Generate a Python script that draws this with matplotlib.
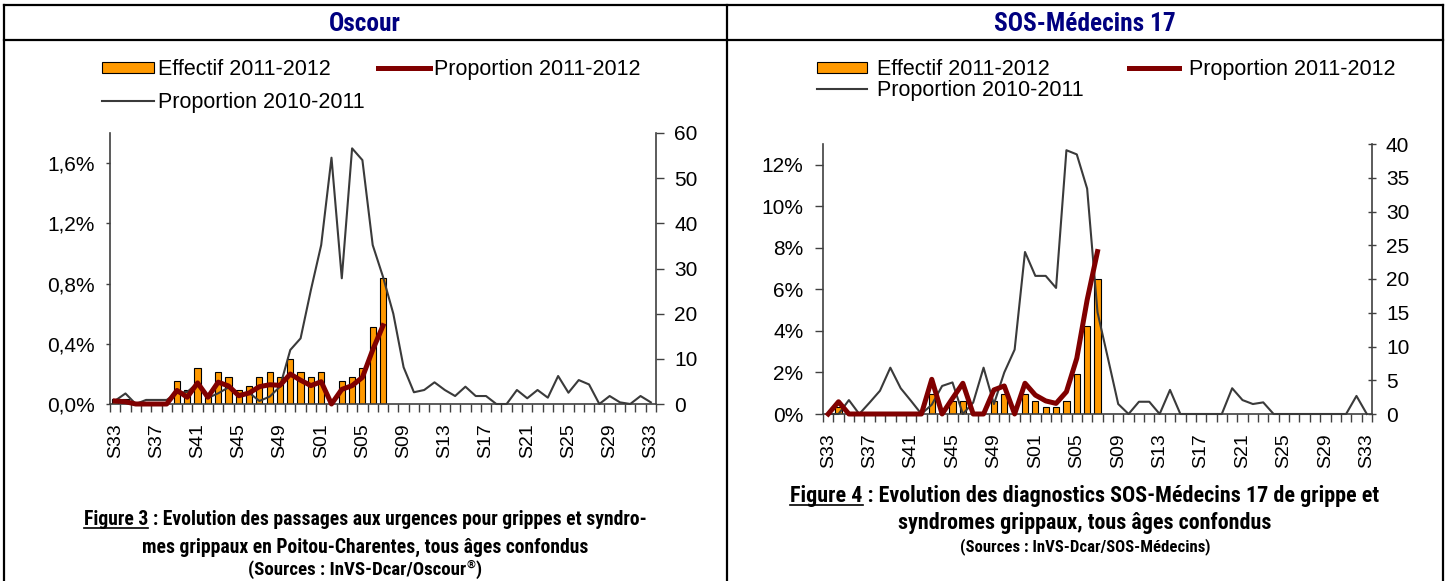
import matplotlib
matplotlib.use("Agg")
import numpy as np
import matplotlib.pyplot as plt
from matplotlib import font_manager as fm
from matplotlib.lines import Line2D
from matplotlib.patches import Patch
from matplotlib.ticker import FixedLocator, FuncFormatter

# =========================
# Data
# =========================
WEEKS = [f"S{w:02d}" for w in list(range(33, 53)) + list(range(1, 34))]

# Oscour (Poitou-Charentes emergency visits)
OSC_COUNT_1112 = [1, 1, 0, 0, 0, 0, 5, 3, 8, 2, 7, 6, 3, 4, 6, 7, 6, 10, 7, 6,
                  7, 0, 5, 6, 8, 17, 28]
OSC_PROP_1112 = [0.02, 0.015, 0, 0, 0, 0, 0.09, 0.045, 0.14, 0.045, 0.145, 0.12,
                 0.055, 0.073, 0.115, 0.128, 0.124, 0.199, 0.158, 0.122, 0.148,
                 0, 0.097, 0.122, 0.177, 0.359, 0.52]
OSC_PROP_1011 = [0.022, 0.07, 0, 0.027, 0.027, 0.027, 0.073, 0.08, 0.14, 0.04,
                 0.071, 0.11, 0.065, 0.075, 0.02, 0.049, 0.115, 0.359, 0.436, 0.757,
                 1.056, 1.636, 0.835, 1.698, 1.62, 1.056, 0.845, 0.6, 0.244, 0.078,
                 0.093, 0.144, 0.093, 0.053, 0.115, 0.053, 0.053, 0, 0, 0.093,
                 0.038, 0.093, 0.042, 0.186, 0.075, 0.159, 0.13, 0, 0.053, 0.011,
                 0, 0.053, 0.011]

# SOS-Medecins 17
SOS_COUNT_1112 = [0, 1, 0, 0, 0, 0, 0, 0, 0, 0, 3, 0, 2, 2, 0, 0, 2, 3, 0, 3,
                  2, 1, 1, 2, 6, 13, 20]
SOS_PROP_1112 = [0, 0.59, 0, 0, 0, 0, 0, 0, 0, 0, 1.67, 0, 0.75, 1.48, 0, 0,
                 1.16, 1.35, 0, 1.48, 0.91, 0.63, 0.51, 1.07, 2.68, 5.49, 7.82]
SOS_PROP_1011 = [0, 0, 0.67, 0, 0.55, 1.12, 2.23, 1.24, 0.63, 0,
                 0.45, 1.35, 1.52, 0, 0.55, 2.23, 0.48, 2.0, 3.1, 7.8,
                 6.65, 6.65, 6.07, 12.7, 12.5, 10.85, 4.9, 2.7, 0.48, 0,
                 0.59, 0.59, 0, 1.16, 0, 0, 0, 0, 0, 1.24,
                 0.67, 0.48, 0.56, 0, 0, 0, 0, 0, 0, 0,
                 0, 0.87, 0]

LEGEND_LABELS = ["Effectif 2011-2012", "Proportion 2010-2011", "Proportion 2011-2012"]

# =========================
# Style
# =========================
ORANGE = "#FF9900"
DARKRED = "#800000"
GREY = "#3a3a3a"
NAVY = "#000080"
SPINE = "#404040"

plt.rcParams["font.family"] = ["Liberation Sans", "DejaVu Sans"]


def narrow_bold_font():
    """Find a condensed bold face among the installed fonts."""
    prefs = ["liberation sans narrow", "roboto condensed", "open sans condensed",
             "noto sans", "dejavu sans"]
    found = []
    for f in fm.fontManager.ttflist:
        key = (f.name + " " + str(f.stretch) + " " + f.fname).lower()
        if not any(k in key for k in ("narrow", "condensed", "cond")):
            continue
        if "extra" in key or "ultra" in key or "semi" in key:
            continue
        w = f.weight
        if isinstance(w, str):
            w = fm.weight_dict.get(w, 400)
        if w < 600 or w > 750 or f.style != "normal":
            continue
        rank = len(prefs)
        for i, p in enumerate(prefs):
            if f.name.lower().startswith(p):
                rank = i
                break
        found.append((rank, f.fname))
    if found:
        found.sort()
        return fm.FontProperties(fname=found[0][1])
    return fm.FontProperties(family=["Roboto", "DejaVu Sans"], weight="bold")


NARROW = narrow_bold_font()

W, H = 1449, 581
fig = plt.figure(figsize=(W / 100, H / 100), dpi=100)
renderer = fig.canvas.get_renderer()


def fx(px):
    return px / W


def fy(py):
    return 1 - py / H


def fig_line(xs, ys, lw=1.6):
    fig.add_artist(Line2D([fx(x) for x in xs], [fy(y) for y in ys],
                          transform=fig.transFigure, color="black", lw=lw))


def narrow(size):
    fp = NARROW.copy()
    fp.set_size(size)
    return fp


def text_width(s, size):
    probe = fig.text(0, 0, s, fontproperties=narrow(size))
    w = probe.get_window_extent(renderer).width
    probe.remove()
    return w


def fit_size(s, width, size=14):
    return size * width / text_width(s, size)


def caption(xc, ybases, fig_no, rest, line2, src_main, src_sup, width1, width_src):
    line1 = f"Figure {fig_no} : {rest}"
    fs = fit_size(line1, width1)
    t1 = fig.text(fx(xc), fy(ybases[0]), line1, ha="center", va="baseline",
                  fontproperties=narrow(fs))
    fig.text(fx(xc), fy(ybases[1]), line2, ha="center", va="baseline",
             fontproperties=narrow(fs))

    # sources line, with an optional raised mark
    fs_src = fit_size(src_main + src_sup + ")", width_src, 11)
    fs_sup = fs_src * 0.6
    w_main = text_width(src_main, fs_src)
    w_sup = text_width(src_sup, fs_sup) if src_sup else 0
    w_close = text_width(")", fs_src)
    xl = xc - (w_main + w_sup + w_close) / 2
    fig.text(fx(xl), fy(ybases[2]), src_main, ha="left", va="baseline",
             fontproperties=narrow(fs_src))
    if src_sup:
        fig.text(fx(xl + w_main), fy(ybases[2] - 7), src_sup, ha="left",
                 va="baseline", fontproperties=narrow(fs_sup))
    fig.text(fx(xl + w_main + w_sup), fy(ybases[2]), ")", ha="left",
             va="baseline", fontproperties=narrow(fs_src))

    # underline "Figure N"
    bb = t1.get_window_extent(renderer)
    uw = text_width(f"Figure {fig_no}", fs)
    yline = fy(ybases[0] + 3)
    fig.add_artist(Line2D([bb.x0 / W, (bb.x0 + uw) / W], [yline, yline],
                          transform=fig.transFigure, color="black", lw=1.2))


def panel(box, counts, prop_new, prop_old, cmax, cstep, pmax, pticks, pfmt,
          legend_xy, leg_opts, ptick_len, ctick_dir):
    x0, y0, x1, y1 = box
    ax = fig.add_axes([fx(x0), fy(y1), (x1 - x0) / W, (y1 - y0) / H])
    ax2 = ax.twinx()

    n = len(WEEKS)
    ax.bar(np.arange(len(counts)), counts, width=0.6, color=ORANGE,
           edgecolor="black", linewidth=0.8, zorder=2)
    ax.set_xlim(-0.5, n - 0.5)
    ax.set_ylim(0, cmax)
    ax.yaxis.tick_right()
    ax.set_yticks(np.arange(0, cmax + 1, cstep))
    ax.tick_params(axis="y", labelsize=15, length=6, width=1, color=SPINE,
                   direction=ctick_dir, pad=7)

    ax.set_xticks(np.arange(0, n, 4))
    ax.set_xticklabels([WEEKS[i] for i in range(0, n, 4)], rotation=90)
    ax.xaxis.set_minor_locator(FixedLocator(np.arange(-0.5, n, 1)))
    ax.tick_params(axis="x", which="major", length=0, labelsize=14, pad=14)
    ax.tick_params(axis="x", which="minor", length=6, width=1, color=SPINE,
                   direction="out")

    for side in ["left", "right", "bottom"]:
        ax.spines[side].set_color(SPINE)
        ax.spines[side].set_linewidth(1.2)
    ax.spines["top"].set_visible(False)
    for sp in ax2.spines.values():
        sp.set_visible(False)

    ax2.plot(np.arange(len(prop_old)), prop_old, color=GREY, lw=1.5,
             clip_on=False, zorder=3)
    ax2.plot(np.arange(len(prop_new)), prop_new, color=DARKRED, lw=3.6,
             solid_joinstyle="round", clip_on=False, zorder=4)
    ax2.set_ylim(0, pmax)
    ax2.yaxis.tick_left()
    ax2.set_yticks(pticks)
    ax2.yaxis.set_major_formatter(FuncFormatter(pfmt))
    ax2.tick_params(axis="y", labelsize=15, length=ptick_len, width=1,
                    color=SPINE, direction="out", pad=8)

    handles = [Patch(facecolor=ORANGE, edgecolor="black", linewidth=0.8),
               Line2D([], [], color=GREY, lw=1.5),
               Line2D([], [], color=DARKRED, lw=3.6)]
    ax2.legend(handles, LEGEND_LABELS, ncol=2, loc="upper left",
               bbox_to_anchor=(fx(legend_xy[0]), fy(legend_xy[1])),
               bbox_transform=fig.transFigure, frameon=False, fontsize=15.5,
               borderpad=0, borderaxespad=0, handleheight=0.45, **leg_opts)
    return ax, ax2


# =========================
# Frame
# =========================
fig_line([4, 1443], [5, 5])
fig_line([4, 1443], [40, 40])
for xv in [4, 727, 1443]:
    fig_line([xv, xv], [5, 581])

title_size = fit_size("Oscour", 72, 16)
fig.text(fx(365), fy(31), "Oscour", ha="center", va="baseline",
         fontproperties=narrow(title_size), color=NAVY)
fig.text(fx(1085), fy(31), "SOS-Médecins 17", ha="center", va="baseline",
         fontproperties=narrow(title_size), color=NAVY)

# =========================
# Panels
# =========================
panel((110, 133, 656, 404), OSC_COUNT_1112, OSC_PROP_1112, OSC_PROP_1011,
      60, 10, 1.8, [0, 0.4, 0.8, 1.2, 1.6],
      lambda v, p: f"{v:.1f}%".replace(".", ","),
      (102, 59), dict(handlelength=2.42, handletextpad=0.2, columnspacing=0.6,
                      labelspacing=0.54),
      3, "out")

panel((823, 144, 1372, 414), SOS_COUNT_1112, SOS_PROP_1112, SOS_PROP_1011,
      40, 5, 13, [0, 2, 4, 6, 8, 10, 12],
      lambda v, p: f"{v:.0f}%",
      (817, 59), dict(handlelength=2.33, handletextpad=0.47, columnspacing=2.1,
                      labelspacing=0.0),
      6, "inout")

caption(365, (525, 553, 575), 3,
        "Evolution des passages aux urgences pour grippes et syndro-",
        "mes grippaux en Poitou-Charentes, tous âges confondus",
        "(Sources : InVS-Dcar/Oscour", "®", 566, 239)
caption(1085, (502, 529, 551), 4,
        "Evolution des diagnostics SOS-Médecins 17 de grippe et",
        "syndromes grippaux, tous âges confondus",
        "(Sources : InVS-Dcar/SOS-Médecins", "", 590, 250)

fig.savefig("out.png", dpi=100)
